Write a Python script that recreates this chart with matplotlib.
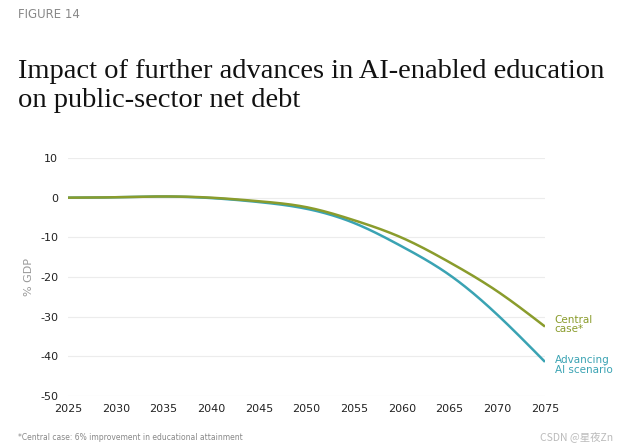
import matplotlib
matplotlib.use("Agg")
import matplotlib.pyplot as plt
import numpy as np

plt.rcParams["axes.unicode_minus"] = False

years = [2025, 2030, 2035, 2040, 2045, 2050, 2055, 2060, 2065, 2070, 2075]
central = [0.0, 0.1, 0.3, 0.0, -0.9, -2.4, -5.7, -10.1, -16.3, -23.6, -32.5]
advancing = [0.0, 0.1, 0.3, -0.1, -1.1, -2.8, -6.4, -12.3, -19.5, -29.5, -41.4]
yticks = [10, 0, -10, -20, -30, -40, -50]
xticks = [2025, 2030, 2035, 2040, 2045, 2050, 2055, 2060, 2065, 2070, 2075]

GREEN = "#8a9c2c"
TEAL = "#3aa3b3"

fig = plt.figure(figsize=(6.23, 4.48), dpi=100)
ax = fig.add_axes([68/623, 1-396/448, (545-68)/623, (396-158)/448])


def spline(xs, ys, n=300):
    """Natural cubic spline through the read values (for a smooth curve)."""
    xs = np.asarray(xs, float); ys = np.asarray(ys, float)
    N = len(xs); h = np.diff(xs)
    A = np.zeros((N, N)); b = np.zeros(N)
    A[0, 0] = 1; A[-1, -1] = 1
    for i in range(1, N-1):
        A[i, i-1] = h[i-1]; A[i, i] = 2*(h[i-1]+h[i]); A[i, i+1] = h[i]
        b[i] = 3*((ys[i+1]-ys[i])/h[i] - (ys[i]-ys[i-1])/h[i-1])
    c = np.linalg.solve(A, b)
    xx = np.linspace(xs[0], xs[-1], n)
    idx = np.clip(np.searchsorted(xs, xx) - 1, 0, N-2)
    dx = xx - xs[idx]
    bb = (ys[idx+1]-ys[idx])/h[idx] - h[idx]*(2*c[idx]+c[idx+1])/3
    dd = (c[idx+1]-c[idx])/(3*h[idx])
    return xx, ys[idx] + bb*dx + c[idx]*dx**2 + dd*dx**3


for yv in yticks:
    ax.axhline(yv, color="#ececec", lw=0.8, zorder=0)

xa, ya = spline(years, advancing)
xc, yc = spline(years, central)
ax.plot(xa, ya, color=TEAL, lw=1.8, solid_capstyle="butt")
ax.plot(xc, yc, color=GREEN, lw=1.8, solid_capstyle="butt")

ax.set_xlim(2025, 2075)
ax.set_ylim(-50, 10)
ax.set_yticks(yticks)
ax.set_xticks(xticks)
for s in ax.spines.values():
    s.set_visible(False)
ax.tick_params(length=0, labelsize=8, colors="#222222")
ax.tick_params(axis="y", pad=7)
ax.tick_params(axis="x", pad=6)
ax.set_ylabel("% GDP", color="#999999", fontsize=8)
ax.yaxis.set_label_coords((34 - 68) / 477, 0.5)

ax.text(2076.0, central[-1] + 0.5, "Central\ncase*", color=GREEN, fontsize=7.5,
        va="center", ha="left", linespacing=0.95)
ax.text(2076.0, advancing[-1] - 0.8, "Advancing\nAI scenario", color=TEAL, fontsize=7.5,
        va="center", ha="left", linespacing=0.95)

fig.text(18/623, 1-15/448, "FIGURE 14", color="#888888", fontsize=8.5, va="center", ha="left")
fig.text(18/623, 1-86/448, "Impact of further advances in AI-enabled education\non public-sector net debt",
         family="Liberation Serif", fontsize=20.5, color="#111111", va="center", ha="left",
         linespacing=1.17)
fig.text(18/623, 1-437/448, "*Central case: 6% improvement in educational attainment",
         color="#888888", fontsize=5.5, va="center", ha="left")
fig.text(540/623, 1-437/448, "CSDN @星夜Zn", color="#bbbbbb", fontsize=7.5,
         family=["Noto Sans CJK SC", "DejaVu Sans"], va="center", ha="left")

fig.savefig("out.png", dpi=100, facecolor="white")
